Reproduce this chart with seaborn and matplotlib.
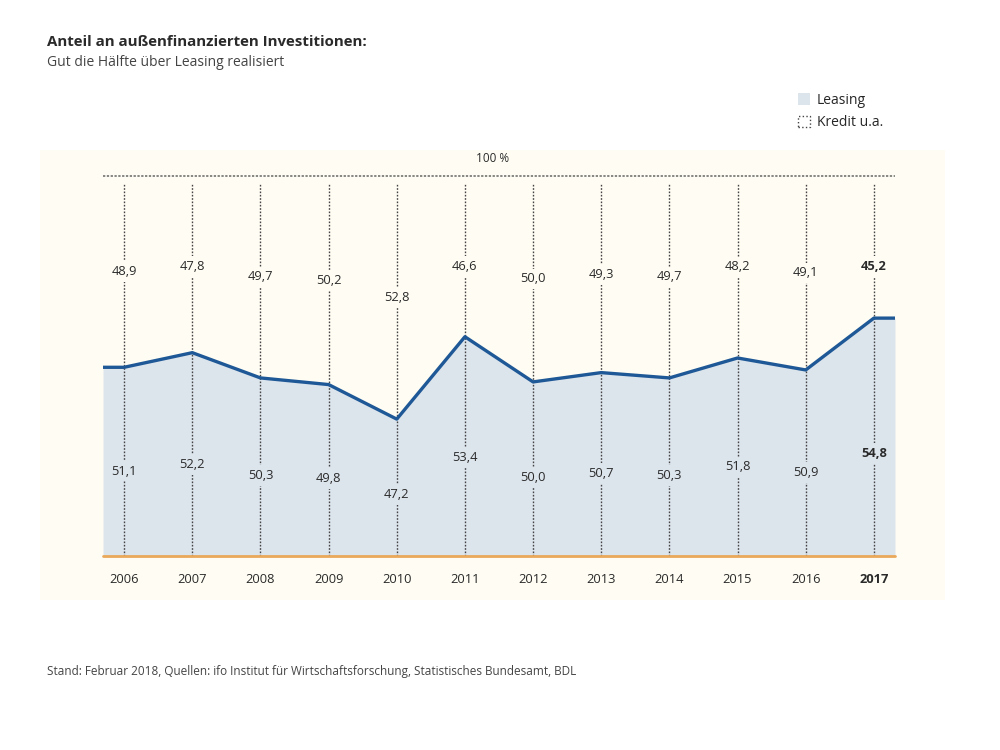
import numpy as np
import pandas as pd
import matplotlib.pyplot as plt
from matplotlib.patches import Patch, Rectangle
import seaborn as sns

years = [2006, 2007, 2008, 2009, 2010, 2011, 2012, 2013, 2014, 2015, 2016, 2017]
leasing = [51.1, 52.2, 50.3, 49.8, 47.2, 53.4, 50.0, 50.7, 50.3, 51.8, 50.9, 54.8]
kredit = [48.9, 47.8, 49.7, 50.2, 52.8, 46.6, 50.0, 49.3, 49.7, 48.2, 49.1, 45.2]

title = 'Anteil an außenfinanzierten Investitionen:'
subtitle = 'Gut die Hälfte über Leasing realisiert'
source = ('Stand: Februar 2018, Quellen: ifo Institut für Wirtschaftsforschung, '
          'Statistisches Bundesamt, BDL')

FILL = '#dce4ec'
LINE = '#1f5896'
PANEL = '#fffdf3'
ORANGE = '#e9a85a'
TXT = '#2a2a2a'

sns.set_theme(style='white')
plt.rcParams['font.family'] = ['Open Sans', 'DejaVu Sans']

df = pd.DataFrame({'Jahr': years, 'Leasing': leasing, 'Kredit': kredit})

fig = plt.figure(figsize=(10, 7.5), dpi=100)
fig.patches.append(Rectangle((0.04, 0.2), 0.905, 0.6, transform=fig.transFigure,
                             facecolor=PANEL, edgecolor='none', zorder=-1))

ax = fig.add_axes([0.103, 0.2587, 0.792, 0.5067])
ax.patch.set_alpha(0)
y_bot, y_top = 36.9, 65.5
x_ext = 0.31
ax.set_xlim(years[0] - x_ext, years[-1] + x_ext)
ax.set_ylim(y_bot, y_top)

# area extended flat to the panel edges
xs = [years[0] - x_ext] + years + [years[-1] + x_ext]
ys = [leasing[0]] + leasing + [leasing[-1]]
ax.fill_between(xs, y_bot, ys, color=FILL, lw=0, zorder=1)
ext = pd.DataFrame({'x': xs, 'y': ys})
sns.lineplot(data=ext, x='x', y='y', ax=ax, color=LINE, lw=2.4, zorder=4,
             estimator=None, sort=False)

# dotted year lines, 100% line, baseline
ax.vlines(years, y_bot, y_top - 0.6, colors='#444444', linestyles=(0, (1.2, 1.2)),
          lw=1.0, zorder=2)
ax.axhline(y_top, color='#666666', ls=(0, (1.5, 1)), lw=1.1, zorder=2, clip_on=False)
ax.axhline(y_bot, color=ORANGE, lw=2, zorder=5, clip_on=False)
ax.text(np.mean([years[0], years[-1]]) - 0.09, y_top + 0.8, '100 %', ha='center',
        va='bottom', fontsize=8.5, color=TXT)

for i, (yr, l, k) in enumerate(df[['Jahr', 'Leasing', 'Kredit']].itertuples(index=False)):
    bold = 'bold' if i == len(years) - 1 else 'normal'
    ky = min((l + y_top) / 2, 58.7)
    ly = min(y_bot + (l - y_bot) * 0.45, 44.6)
    ax.text(yr, ky, f'{k:.1f}'.replace('.', ','), ha='center', va='center',
            fontsize=9.3, color=TXT, fontweight=bold, zorder=6,
            bbox=dict(boxstyle='square,pad=0.3', fc=PANEL, ec='none'))
    ax.text(yr, ly, f'{l:.1f}'.replace('.', ','), ha='center', va='center',
            fontsize=9.3, color=TXT, fontweight=bold, zorder=6,
            bbox=dict(boxstyle='square,pad=0.3', fc=FILL, ec='none'))

ax.set_xticks(years)
ax.set_xticklabels([str(y) for y in years], fontsize=9.3, color=TXT)
ax.get_xticklabels()[-1].set_fontweight('bold')
ax.tick_params(axis='x', length=0, pad=12)
ax.set_yticks([])
ax.set_xlabel('')
ax.set_ylabel('')
for s in ax.spines.values():
    s.set_visible(False)

fig.text(0.047, 0.944, title, fontsize=10.8, fontweight='bold', color=TXT, va='center')
fig.text(0.047, 0.916, subtitle, fontsize=10, color='#444444', va='center')
fig.text(0.047, 0.105, source, fontsize=8.5, color='#444444', va='center')

handles = [Patch(facecolor=FILL, edgecolor='none', label='Leasing'),
           Patch(facecolor='white', edgecolor='#444444', linestyle=':', label='Kredit u.a.')]
fig.legend(handles=handles, loc='upper left', bbox_to_anchor=(0.792, 0.884),
           frameon=False, fontsize=10, handlelength=0.9, handleheight=0.9,
           handletextpad=0.5, labelspacing=0.55, borderaxespad=0)

fig.savefig('out.png', dpi=100, facecolor='white')
